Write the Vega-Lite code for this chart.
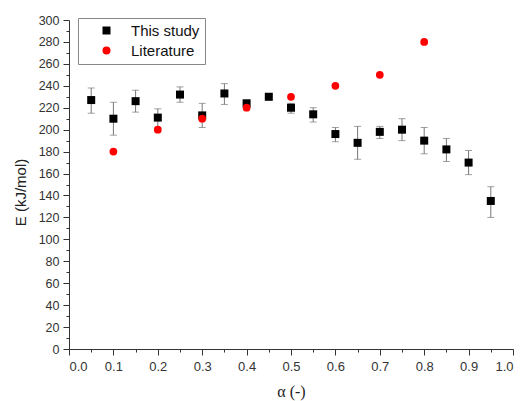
{
  "$schema": "https://vega.github.io/schema/vega-lite/v6.json",
  "width": 444,
  "height": 329,
  "autosize": {"type": "none"},
  "padding": {"left": 69, "top": 20, "right": 7, "bottom": 52},
  "background": "white",
  "config": {
    "view": {"stroke": null},
    "axis": {
      "grid": false,
      "domainColor": "#333",
      "tickColor": "#333",
      "labelColor": "#333",
      "titleColor": "#222",
      "labelFont": "Liberation Sans",
      "titleFont": "Liberation Sans",
      "labelFontSize": 13,
      "titleFontSize": 15,
      "titleFontWeight": "normal"
    },
    "legend": {
      "orient": "none",
      "legendX": 9,
      "legendY": -2,
      "strokeColor": "#888",
      "fillColor": "white",
      "padding": 5,
      "symbolOffset": 16,
      "labelOffset": 17,
      "labelFont": "Liberation Sans",
      "labelFontSize": 15,
      "labelColor": "#111",
      "rowPadding": 4,
      "symbolSize": 64,
      "symbolStrokeWidth": 0
    }
  },
  "data": {
    "values": [
      {"alpha": 0.05, "E": 227, "lo": 215, "hi": 238, "series": "This study"},
      {"alpha": 0.10, "E": 210, "lo": 195, "hi": 225, "series": "This study"},
      {"alpha": 0.15, "E": 226, "lo": 216, "hi": 236, "series": "This study"},
      {"alpha": 0.20, "E": 211, "lo": 202, "hi": 219, "series": "This study"},
      {"alpha": 0.25, "E": 232, "lo": 225, "hi": 239, "series": "This study"},
      {"alpha": 0.30, "E": 213, "lo": 202, "hi": 224, "series": "This study"},
      {"alpha": 0.35, "E": 233, "lo": 223, "hi": 242, "series": "This study"},
      {"alpha": 0.40, "E": 224, "lo": 220, "hi": 227, "series": "This study"},
      {"alpha": 0.45, "E": 230, "lo": 227, "hi": 232, "series": "This study"},
      {"alpha": 0.50, "E": 220, "lo": 215, "hi": 224, "series": "This study"},
      {"alpha": 0.55, "E": 214, "lo": 207, "hi": 220, "series": "This study"},
      {"alpha": 0.60, "E": 196, "lo": 189, "hi": 202, "series": "This study"},
      {"alpha": 0.65, "E": 188, "lo": 173, "hi": 203, "series": "This study"},
      {"alpha": 0.70, "E": 198, "lo": 192, "hi": 203, "series": "This study"},
      {"alpha": 0.75, "E": 200, "lo": 190, "hi": 210, "series": "This study"},
      {"alpha": 0.80, "E": 190, "lo": 178, "hi": 202, "series": "This study"},
      {"alpha": 0.85, "E": 182, "lo": 171, "hi": 192, "series": "This study"},
      {"alpha": 0.90, "E": 170, "lo": 159, "hi": 181, "series": "This study"},
      {"alpha": 0.95, "E": 135, "lo": 120, "hi": 148, "series": "This study"},
      {"alpha": 0.1, "E": 180, "series": "Literature"},
      {"alpha": 0.2, "E": 200, "series": "Literature"},
      {"alpha": 0.3, "E": 210, "series": "Literature"},
      {"alpha": 0.4, "E": 220, "series": "Literature"},
      {"alpha": 0.5, "E": 230, "series": "Literature"},
      {"alpha": 0.6, "E": 240, "series": "Literature"},
      {"alpha": 0.7, "E": 250, "series": "Literature"},
      {"alpha": 0.8, "E": 280, "series": "Literature"}
    ]
  },
  "resolve": {"axis": {"x": "independent", "y": "independent"}},
  "layer": [
    {
      "layer": [
        {
          "transform": [{"filter": "datum.series === 'This study'"}],
          "mark": {"type": "errorbar", "color": "#777", "thickness": 1, "ticks": {"size": 7, "color": "#777"}},
          "encoding": {
            "x": {"field": "alpha", "type": "quantitative", "scale": {"domain": [0, 1]},
              "axis": {"orient": "bottom", "title": "α (-)", "values": [0,0.1,0.2,0.3,0.4,0.5,0.6,0.7,0.8,0.9,1.0], "format": ".1f", "tickSize": 6, "labelPadding": 5, "labelOverlap": false, "labelBound": false, "titleFont": "Liberation Serif", "titleFontSize": 16, "titleY": 42, "titleBaseline": "middle"}},
            "y": {"field": "lo", "type": "quantitative", "scale": {"domain": [0, 300]},
              "axis": {"orient": "left", "title": "E (kJ/mol)", "values": [0,20,40,60,80,100,120,140,160,180,200,220,240,260,280,300], "tickSize": 6, "labelPadding": 4, "labelOverlap": false, "labelBound": false, "labelFontSize": 12.5, "titleX": -49, "titleY": 172, "titleBaseline": "middle"}},
            "y2": {"field": "hi"}
          }
        },
        {
          "transform": [{"filter": "datum.series === 'This study'"}],
          "mark": {"type": "point", "shape": "square", "filled": true, "size": 64, "opacity": 1},
          "encoding": {
            "x": {"field": "alpha", "type": "quantitative", "scale": {"domain": [0, 1]},
              "axis": {"orient": "bottom", "title": "α (-)", "values": [0,0.1,0.2,0.3,0.4,0.5,0.6,0.7,0.8,0.9,1.0], "format": ".1f", "tickSize": 6, "labelPadding": 5, "labelOverlap": false, "labelBound": false, "titleFont": "Liberation Serif", "titleFontSize": 16, "titleY": 42, "titleBaseline": "middle"}},
            "y": {"field": "E", "type": "quantitative", "scale": {"domain": [0, 300]},
              "axis": {"orient": "left", "title": "E (kJ/mol)", "values": [0,20,40,60,80,100,120,140,160,180,200,220,240,260,280,300], "tickSize": 6, "labelPadding": 4, "labelOverlap": false, "labelBound": false, "labelFontSize": 12.5, "titleX": -49, "titleY": 172, "titleBaseline": "middle"}},
            "color": {"field": "series", "type": "nominal", "scale": {"domain": ["This study", "Literature"], "range": ["#000000", "#ff0000"]}, "title": null},
            "shape": {"field": "series", "type": "nominal", "scale": {"domain": ["This study", "Literature"], "range": ["square", "circle"]}, "title": null}
          }
        },
        {
          "transform": [{"filter": "datum.series === 'Literature'"}],
          "mark": {"type": "point", "filled": true, "size": 60, "opacity": 1},
          "encoding": {
            "x": {"field": "alpha", "type": "quantitative", "scale": {"domain": [0, 1]},
              "axis": {"orient": "bottom", "title": "α (-)", "values": [0,0.1,0.2,0.3,0.4,0.5,0.6,0.7,0.8,0.9,1.0], "format": ".1f", "tickSize": 6, "labelPadding": 5, "labelOverlap": false, "labelBound": false, "titleFont": "Liberation Serif", "titleFontSize": 16, "titleY": 42, "titleBaseline": "middle"}},
            "y": {"field": "E", "type": "quantitative", "scale": {"domain": [0, 300]},
              "axis": {"orient": "left", "title": "E (kJ/mol)", "values": [0,20,40,60,80,100,120,140,160,180,200,220,240,260,280,300], "tickSize": 6, "labelPadding": 4, "labelOverlap": false, "labelBound": false, "labelFontSize": 12.5, "titleX": -49, "titleY": 172, "titleBaseline": "middle"}},
            "color": {"field": "series", "type": "nominal", "scale": {"domain": ["This study", "Literature"], "range": ["#000000", "#ff0000"]}, "title": null},
            "shape": {"field": "series", "type": "nominal", "scale": {"domain": ["This study", "Literature"], "range": ["square", "circle"]}, "title": null}
          }
        }
      ]
    },
    {
      "mark": {"type": "point", "opacity": 0},
      "encoding": {
        "x": {"field": "alpha", "type": "quantitative",
          "axis": {"orient": "bottom", "title": null, "labels": false, "domain": false, "tickSize": 3, "values": [0.05,0.15,0.25,0.35,0.45,0.55,0.65,0.75,0.85,0.95]}},
        "y": {"field": "E", "type": "quantitative",
          "axis": {"orient": "left", "title": null, "labels": false, "domain": false, "tickSize": 3, "values": [10,30,50,70,90,110,130,150,170,190,210,230,250,270,290]}}
      }
    }
  ]
}
